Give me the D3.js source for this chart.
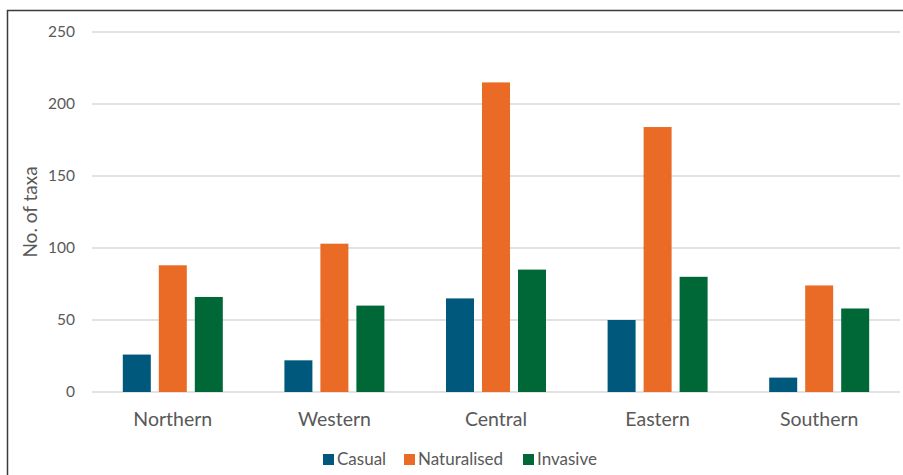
<!DOCTYPE html>
<html><head><meta charset="utf-8">
<script src="https://cdn.jsdelivr.net/npm/d3@7"></script>
<style>body{margin:0;background:#fff}svg{display:block}text{font-family:Lato,"Open Sans",sans-serif;fill:#595959}</style>
</head><body><svg id="c" width="903" height="475"></svg>
<script>
const categories = ["Northern","Western","Central","Eastern","Southern"];
const seriesNames = ["Casual","Naturalised","Invasive"];
const casual = [26,22,65,50,10];
const naturalised = [88,103,215,184,74];
const invasive = [66,60,85,80,58];
const yTicks = [0,50,100,150,200,250];
const colors = ["#00587C","#E96B26","#006837"];
const seriesValues = [casual, naturalised, invasive];

(function(){
const svg = d3.select("#c");
const mLeft = 92, mRight = 900, mTop = 32, mBottom = 392;
const x = d3.scaleBand().domain(categories).range([mLeft,mRight]);
const x1 = d3.scaleBand().domain(seriesNames).range([0,100]).paddingInner(8/36);
const y = d3.scaleLinear().domain([0,250]).range([mBottom,mTop]);

// frame
svg.append("path").attr("d","M7.5,475 V10.5 H903").attr("fill","none").attr("stroke","#3a3a3a").attr("stroke-width",1.5);

// grid
svg.append("g").selectAll("line").data(yTicks).join("line")
  .attr("x1",mLeft).attr("x2",mRight).attr("y1",d=>y(d)).attr("y2",d=>y(d))
  .attr("stroke","#d9d9d9").attr("stroke-width",1.5);

// y tick labels
svg.append("g").selectAll("text").data(yTicks).join("text")
  .attr("x",75).attr("y",d=>y(d)).attr("dy","0.35em").attr("text-anchor","end")
  .attr("font-size",15.5).text(d=>d);

// bars
const g = svg.append("g");
categories.forEach((c,i)=>{
  seriesNames.forEach((s,j)=>{
    const v = seriesValues[j][i];
    g.append("rect")
      .attr("x", x(c) + (x.bandwidth()-100)/2 + x1(s))
      .attr("y", y(v)).attr("width", x1.bandwidth()).attr("height", y(0)-y(v))
      .attr("fill", colors[j]);
  });
});

// category labels
svg.append("g").selectAll("text").data(categories).join("text")
  .attr("x",d=>x(d)+x.bandwidth()/2).attr("y",426).attr("text-anchor","middle")
  .attr("font-size",19.5).text(d=>d);

// y title
svg.append("text").attr("transform","translate(37,212) rotate(-90)")
  .attr("text-anchor","middle").attr("font-size",19).text("No. of taxa");

// legend
const legX = [323,404,523];
seriesNames.forEach((s,j)=>{
  svg.append("rect").attr("x",legX[j]).attr("y",454).attr("width",11).attr("height",11).attr("fill",colors[j]);
  svg.append("text").attr("x",legX[j]+14).attr("y",465).attr("font-size",17).text(s);
});
})();
</script></body></html>
